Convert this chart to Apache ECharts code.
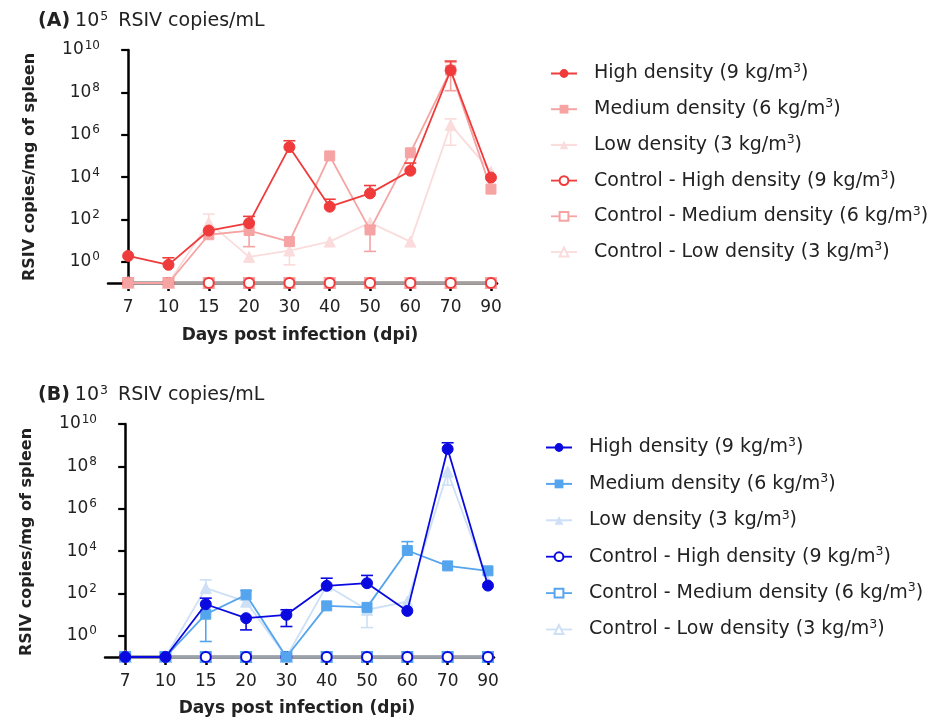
<!DOCTYPE html>
<html><head><meta charset="utf-8">
<script src="https://cdn.jsdelivr.net/npm/echarts@6/dist/echarts.min.js"></script>
<style>html,body{margin:0;padding:0;background:#fff}#c{width:931px;height:728px}</style>
</head><body><div id="c"></div>
<script>
// ---------- data ----------
const dpi = ['7','10','15','20','30','40','50','60','70','90'];
const yTickValues = [1, 1e2, 1e4, 1e6, 1e8, 1e10];
// zero / not detected values are plotted on the axis floor (0.1)

// Panel A : 10^5 RSIV copies/mL
const aHigh    = [1.9, 0.72, 30, 67, 2.6e5, 400, 1700, 2.0e4, 1.1e9, 9.5e3];
const aHighLo  = [null, null, null, null, null, null, null, null, null, null];
const aHighHi  = [null, 1.55, null, 140, 5.2e5, 900, 4000, 4.6e4, 3e9, null];
const aMed     = [0.1, 0.1, 19, 30, 9, 1e5, 32, 1.4e5, 1.1e9, 2.7e3];
const aMedLo   = [null, null, null, 5.2, null, null, 3.1, null, 1.2e8, null];
const aMedHi   = [null, null, null, null, null, null, 50, null, 2.6e9, null];
const aLow     = [0.1, 0.1, 71, 1.7, 3.4, 9, 71, 9, 2.9e6, 1.8e4];
const aLowLo   = [null, null, null, null, 0.72, null, null, null, 3.2e5, null];
const aLowHi   = [null, null, 180, null, null, null, null, null, 5.6e6, null];
const aCtrlHigh = [0.1, 0.1, 0.1, 0.1, 0.1, 0.1, 0.1, 0.1, 0.1, 0.1];
const aCtrlMed  = [0.1, 0.1, 0.1, 0.1, 0.1, 0.1, 0.1, 0.1, 0.1, 0.1];
const aCtrlLow  = [0.1, 0.1, 0.1, 0.1, 0.1, 0.1, 0.1, 0.1, 0.1, 0.1];

// Panel B : 10^3 RSIV copies/mL
const bHigh    = [0.1, 0.1, 31, 6.8, 9.8, 230, 305, 15, 6.6e8, 235];
const bHighLo  = [null, null, null, 1.9, 2.75, null, null, null, null, null];
const bHighHi  = [null, null, 60, null, 17, 525, 710, null, 1.3e9, null];
const bMed     = [0.1, 0.1, 10.5, 86, 0.1, 26, 22, 1.07e4, 2000, 1170];
const bMedLo   = [null, null, 0.54, null, null, null, null, null, null, null];
const bMedHi   = [null, null, null, 138, null, null, null, 2.8e4, null, null];
const bLow     = [0.1, 0.1, 178, 41, 0.1, 235, 17, 41, 5.6e7, 360];
const bLowLo   = [null, null, null, null, null, null, 2.45, null, 1.3e7, null];
const bLowHi   = [null, null, 436, null, null, null, null, null, null, null];
const bCtrlHigh = [0.1, 0.1, 0.1, 0.1, 0.1, 0.1, 0.1, 0.1, 0.1, 0.1];
const bCtrlMed  = [0.1, 0.1, 0.1, 0.1, 0.1, 0.1, 0.1, 0.1, 0.1, 0.1];
const bCtrlLow  = [0.1, 0.1, 0.1, 0.1, 0.1, 0.1, 0.1, 0.1, 0.1, 0.1];

const legendLabels = {
  High: 'High density (9 kg/m', Med: 'Medium density (6 kg/m', Low: 'Low density (3 kg/m',
  CtrlHigh: 'Control - High density (9 kg/m', CtrlMed: 'Control - Medium density (6 kg/m', CtrlLow: 'Control - Low density (3 kg/m'
};

// ---------- styling ----------
const FONT = 'DejaVu Sans';
const colA = {High:'#ef3b3b', Med:'#f6a3a3', Low:'#fbdcdc'};
const colB = {High:'#0a0ae0', Med:'#55a5ee', Low:'#cde0f6'};
const baseGreyA = '#a59f9f', baseGreyB = '#9ca2ac';

const chart = echarts.init(document.getElementById('c'), null, {renderer:'canvas'});

function pairs(arr){ return arr.map((v,i)=>[i,v]); }

function errSeries(idx, vals, lo, hi, color, z){
  const data = [];
  for (let i=0;i<vals.length;i++){
    if (lo[i]!=null || hi[i]!=null){
      data.push([i, lo[i]!=null?lo[i]:vals[i], hi[i]!=null?hi[i]:vals[i], lo[i]!=null?1:0, hi[i]!=null?1:0]);
    }
  }
  return {
    type:'custom', xAxisIndex:idx, yAxisIndex:idx, data, z, clip:false, silent:true,
    encode:{x:0, y:[1,2]},
    renderItem(params, api){
      const x = api.value(0);
      const p1 = api.coord([x, api.value(1)]);
      const p2 = api.coord([x, api.value(2)]);
      const cw = 6;
      const st = {stroke:color, lineWidth:1.6};
      const ch = [{type:'line', shape:{x1:p1[0],y1:p1[1],x2:p2[0],y2:p2[1]}, style:st}];
      if (api.value(3)) ch.push({type:'line', shape:{x1:p1[0]-cw,y1:p1[1],x2:p1[0]+cw,y2:p1[1]}, style:st});
      if (api.value(4)) ch.push({type:'line', shape:{x1:p2[0]-cw,y1:p2[1],x2:p2[0]+cw,y2:p2[1]}, style:st});
      return {type:'group', children:ch};
    }
  };
}

function lineSeries(idx, name, vals, color, symbol, size, z){
  return {
    type:'line', name, xAxisIndex:idx, yAxisIndex:idx, data:pairs(vals), z,
    symbol, symbolSize:size, showSymbol:true, clip:false,
    lineStyle:{color, width:1.8}, itemStyle:{color, borderColor:color},
    emphasis:{disabled:true}
  };
}
function ctrlSeries(idx, name, vals, color, grey, symbol, z){
  return {
    type:'line', name, xAxisIndex:idx, yAxisIndex:idx, data:pairs(vals), z,
    symbol, symbolSize:10, clip:false,
    lineStyle:{color:grey, width:3.2},
    itemStyle:{color:color, borderWidth:1.4},
    emphasis:{disabled:true}
  };
}

function panelSeries(idx, p, cols, grey, d){
  return [
    ctrlSeries(idx, p+'CtrlLow', d.cl, cols.Low, grey, 'emptyTriangle', 3),
    ctrlSeries(idx, p+'CtrlMed', d.cm, cols.Med, grey, 'emptyRect', 4),
    ctrlSeries(idx, p+'CtrlHigh', d.ch, cols.High, grey, 'emptyCircle', 5),
    errSeries(idx, d.l, d.lLo, d.lHi, cols.Low, 6),
    lineSeries(idx, p+'Low', d.l, cols.Low, 'triangle', 11, 7),
    errSeries(idx, d.m, d.mLo, d.mHi, cols.Med, 8),
    lineSeries(idx, p+'Med', d.m, cols.Med, 'rect', 10, 9),
    errSeries(idx, d.h, d.hLo, d.hHi, cols.High, 10),
    lineSeries(idx, p+'High', d.h, cols.High, 'circle', 11, 11)
  ];
}

const supRich = {
  n:{fontFamily:FONT, fontSize:17, color:'#222'},
  s:{fontFamily:FONT, fontSize:12, color:'#222', padding:[0,0,9,1]}
};

function xAxisCfg(idx){
  return {
    type:'value', gridIndex:idx, min:-0.5, max:9.15,
    axisLine:{show:true, onZero:false, lineStyle:{color:'#000', width:2.5}},
    axisTick:{show:true, length:8, customValues:[0,1,2,3,4,5,6,7,8,9], lineStyle:{color:'#000', width:2.5}},
    axisLabel:{customValues:[0,1,2,3,4,5,6,7,8,9], formatter:v=>dpi[Math.round(v)], fontFamily:FONT, fontSize:17, color:'#222', margin:16},
    splitLine:{show:false}
  };
}
function yAxisCfg(idx){
  return {
    type:'log', gridIndex:idx, logBase:10, min:0.1, max:1e10,
    axisLine:{show:true, lineStyle:{color:'#000', width:2.5}},
    axisTick:{show:true, length:7, customValues:yTickValues, lineStyle:{color:'#000', width:2.2}},
    axisLabel:{customValues:yTickValues, margin:8,
      formatter:v=>'{n|10}{s|'+Math.round(Math.log10(v))+'}', rich:supRich},
    splitLine:{show:false}, minorTick:{show:false}
  };
}

function legendCfg(p, cols, left, top, gap){
  const keys = ['High','Med','Low','CtrlHigh','CtrlMed','CtrlLow'];
  return {
    orient:'vertical', left, top, padding:0, itemWidth:26, itemHeight:11, itemGap:gap,
    selectedMode:false,
    data: keys.map(k=>{
      const base = k.replace('Ctrl','');
      const c = cols[base];
      const item = {name:p+k};
      if (k.startsWith('Ctrl')) item.lineStyle = {color:c, width:1.8};
      return item;
    }),
    formatter: name => '{t|'+legendLabels[name.slice(1)]+'}{s|3}{t|)}',
    textStyle:{
      rich:{
        t:{fontFamily:FONT, fontSize:19, color:'#222', lineHeight:21},
        s:{fontFamily:FONT, fontSize:12.5, color:'#222', padding:[0,0,10,0]}
      },
      padding:[0,0,0,12]
    }
  };
}

const titleRich = {
  b:{fontFamily:FONT, fontSize:19, fontWeight:'bold', color:'#222'},
  n:{fontFamily:FONT, fontSize:19, fontWeight:'normal', color:'#222'},
  s:{fontFamily:FONT, fontSize:12.5, fontWeight:'normal', color:'#222', padding:[0,0,10,1]}
};

const nameFont = 'bold 17px "'+FONT+'"';
const yNameFont = 'bold 16px "'+FONT+'"';

const option = {
  backgroundColor:'#fff',
  animation:false,
  title:[
    {left:33, top:5, text:'{b|(A)} {n|10}{s|5}  {n|RSIV copies/mL}', textStyle:{fontWeight:'normal', rich:titleRich}},
    {left:33, top:379, text:'{b|(B)} {n|10}{s|3}  {n|RSIV copies/mL}', textStyle:{fontWeight:'normal', rich:titleRich}}
  ],
  grid:[
    {left:108, top:50, width:389, height:233, containLabel:false},
    {left:105, top:424, width:389, height:233, containLabel:false}
  ],
  xAxis:[xAxisCfg(0), xAxisCfg(1)],
  yAxis:[yAxisCfg(0), yAxisCfg(1)],
  legend:[
    legendCfg('a', colA, 550, 62, 14.7),
    legendCfg('b', colB, 545, 436, 15.4)
  ],
  graphic:[
    {type:'text', x:30, y:167, rotation:Math.PI/2, style:{text:'RSIV copies/mg of spleen', font:yNameFont, fill:'#222', align:'center', verticalAlign:'middle'}},
    {type:'text', x:27, y:542, rotation:Math.PI/2, style:{text:'RSIV copies/mg of spleen', font:yNameFont, fill:'#222', align:'center', verticalAlign:'middle'}},
    {type:'text', x:300, y:336, style:{text:'Days post infection (dpi)', font:nameFont, fill:'#222', align:'center', verticalAlign:'middle'}},
    {type:'text', x:297, y:709, style:{text:'Days post infection (dpi)', font:nameFont, fill:'#222', align:'center', verticalAlign:'middle'}}
  ],
  series:[
    ...panelSeries(0, 'a', colA, baseGreyA, {h:aHigh,hLo:aHighLo,hHi:aHighHi,m:aMed,mLo:aMedLo,mHi:aMedHi,l:aLow,lLo:aLowLo,lHi:aLowHi,ch:aCtrlHigh,cm:aCtrlMed,cl:aCtrlLow}),
    ...panelSeries(1, 'b', colB, baseGreyB, {h:bHigh,hLo:bHighLo,hHi:bHighHi,m:bMed,mLo:bMedLo,mHi:bMedHi,l:bLow,lLo:bLowLo,lHi:bLowHi,ch:bCtrlHigh,cm:bCtrlMed,cl:bCtrlLow})
  ]
};
chart.setOption(option);
</script>
</body></html>
